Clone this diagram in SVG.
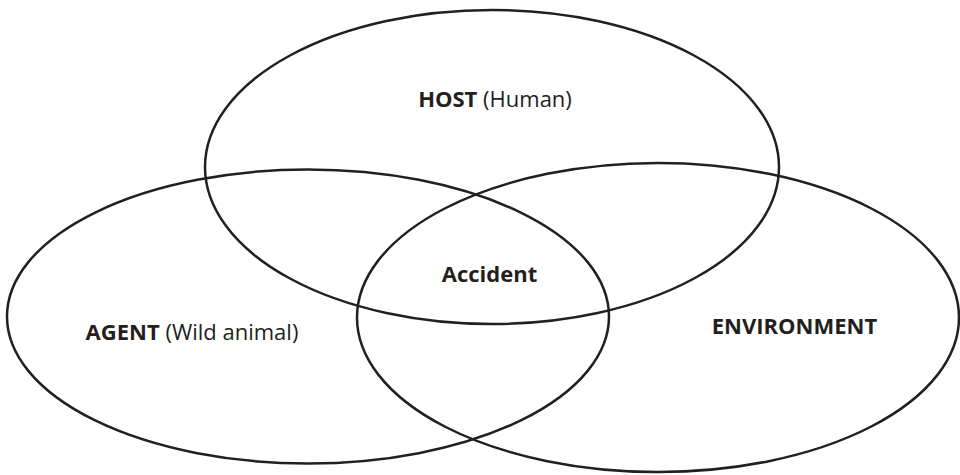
<svg xmlns="http://www.w3.org/2000/svg" width="960" height="475" viewBox="0 0 960 475">
  <style>
    .set { fill: none; stroke: #231f20; stroke-width: 2.5; }
    .lbl { font-family: "Open Sans", "Liberation Sans", sans-serif; font-size: 22px; fill: #231f20; text-anchor: middle; }
    .b { font-weight: bold; }
  </style>
  <rect width="960" height="475" fill="#ffffff"/>
  <g id="host">
    <ellipse class="set" cx="492" cy="167" rx="287" ry="157"/>
    <text class="lbl" x="495" y="107"><tspan class="b">HOST</tspan> (Human)</text>
  </g>
  <g id="agent">
    <ellipse class="set" cx="308" cy="316.5" rx="301" ry="147"/>
    <text class="lbl" x="192" y="340"><tspan class="b">AGENT</tspan> (Wild animal)</text>
  </g>
  <g id="environment">
    <ellipse class="set" cx="658" cy="317.5" rx="301" ry="154.5"/>
    <text class="lbl b" x="794.5" y="334">ENVIRONMENT</text>
  </g>
  <g id="accident">
    <text class="lbl b" x="489.5" y="282">Accident</text>
  </g>
  <g id="connectors"></g>
</svg>
